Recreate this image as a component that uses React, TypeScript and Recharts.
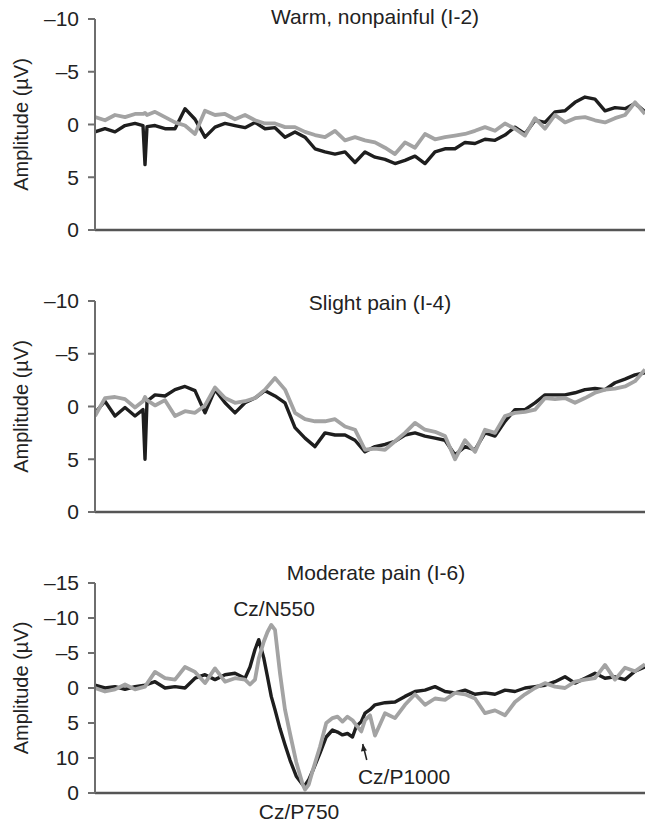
import React from 'react';
import { LineChart, Line, XAxis, YAxis, ReferenceDot } from 'recharts';

const FONT = '"Liberation Sans", Arial, Helvetica, sans-serif';

// ---- Panel 1: Warm, nonpainful (I-2)
const time1 = [-100, -60, -20, 20, 60, 92, 100, 108, 140, 180, 220, 260, 300, 340, 380, 420, 460, 500, 540, 580, 620, 660, 700, 740, 780, 820, 860, 900, 940, 980, 1020, 1060, 1100, 1140, 1180, 1220, 1260, 1300, 1340, 1380, 1420, 1460, 1500, 1540, 1580, 1620, 1660, 1700, 1740, 1780, 1820, 1860, 1900, 1940, 1980, 2020, 2060, 2100];
const black1 = [0.7, 0.4, 0.7, 0.1, -0.1, 0.1, 3.8, 0.2, 0.1, 0.4, 0.4, -1.5, -0.5, 1.2, 0.25, -0.1, 0.1, 0.3, -0.2, 0.4, 0.3, 1.2, 0.7, 1.2, 2.3, 2.6, 2.8, 2.6, 3.6, 2.6, 3.1, 3.3, 3.7, 3.4, 3.0, 3.7, 2.6, 2.3, 2.3, 1.7, 1.8, 1.4, 1.5, 1.0, 0.25, 0.9, -0.4, -0.2, -1.2, -1.3, -2.1, -2.6, -2.4, -1.3, -1.6, -1.5, -2.0, -1.2];
const gray1 = [-0.7, -0.4, -0.9, -0.7, -1.0, -1.0, -1.1, -0.9, -1.2, -0.7, -0.2, 0.1, 0.9, -1.3, -0.9, -1.0, -0.5, -0.9, -0.4, -0.1, -0.1, 0.25, 0.25, 0.7, 1.0, 1.2, 0.6, 1.5, 1.2, 1.5, 1.7, 2.2, 2.8, 1.7, 2.2, 0.9, 1.4, 1.2, 1.05, 0.9, 0.6, 0.25, 0.6, -0.1, 0.4, 1.05, -0.6, 0.4, -0.9, -0.2, -0.6, -0.7, -0.4, -0.2, -0.6, -0.9, -2.1, -1.0];

// ---- Panel 2: Slight pain (I-4)
const time2 = time1;
const black2 = [0.6, -0.5, 0.9, 0.1, 0.9, 0.3, 5.0, -0.5, -1.1, -1.0, -1.6, -1.9, -1.5, 0.6, -1.6, -0.35, 0.6, -0.35, -0.8, -1.5, -1.0, -0.35, 2.0, 3.0, 3.8, 2.5, 2.7, 2.7, 3.2, 4.3, 3.8, 3.6, 3.3, 2.7, 2.5, 2.8, 3.0, 3.2, 4.6, 3.8, 4.1, 2.5, 2.8, 1.4, 0.3, 0.3, -0.35, -1.1, -1.1, -1.1, -1.3, -1.6, -1.7, -1.6, -2.25, -2.6, -3.0, -3.2];
const gray2 = [0.9, -0.8, -0.9, -0.7, 0.1, -0.5, -0.9, -0.6, -0.1, -0.6, 0.9, 0.45, 0.6, -0.1, -1.8, -0.8, -0.35, -0.5, -0.8, -1.6, -2.7, -1.6, 0.6, 1.2, 1.4, 1.4, 1.2, 1.9, 2.2, 4.1, 4.0, 4.1, 3.3, 2.5, 1.55, 2.2, 2.4, 2.8, 5.0, 3.2, 4.3, 2.2, 2.5, 0.9, 0.6, 0.5, 0.3, -0.8, -0.7, -0.8, -0.35, -0.8, -1.3, -1.6, -1.7, -1.9, -2.4, -3.5];

// ---- Panel 3: Moderate pain (I-6)
const time3 = [-100, -60, -20, 20, 60, 100, 140, 180, 220, 260, 300, 340, 380, 420, 460, 500, 520, 540, 555, 575, 590, 605, 620, 640, 660, 680, 705, 730, 740, 755, 770, 800, 825, 850, 870, 890, 910, 930, 945, 965, 980, 1000, 1020, 1060, 1100, 1140, 1180, 1220, 1260, 1300, 1340, 1380, 1420, 1460, 1500, 1540, 1580, 1620, 1660, 1700, 1740, 1780, 1820, 1860, 1900, 1940, 1980, 2020, 2060, 2100];
const black3 = [-0.4, 0, -0.2, 0.2, -0.2, -0.4, -0.9, 0, -0.2, 0, -1.4, -1.9, -1.2, -1.9, -2.1, -1.4, -3.0, -5.5, -6.9, -4.3, -1.6, 1.2, 3.1, 5.8, 8.1, 10.3, 12.6, 13.8, 13.9, 13.1, 11.9, 9.3, 7.0, 6.0, 6.3, 6.7, 6.5, 7.0, 5.5, 4.8, 3.6, 3.1, 2.4, 2.1, 2.0, 1.2, 0.5, 0.3, -0.2, 0.5, 0.7, 0.3, 0.9, 0.7, 0.9, 0.3, 0.5, 0, -0.2, -0.4, -0.9, -1.6, -0.7, -1.4, -2.1, -1.4, -1.6, -1.2, -2.4, -3.0];
const gray3 = [0, 0.5, 0.2, -0.5, 0.2, -0.2, -2.3, -1.4, -1.2, -3.0, -2.3, -0.7, -2.8, -0.9, -1.4, -1.2, -0.5, -1.2, -4.2, -6.6, -8.0, -9.0, -8.3, -2.1, 3.1, 6.5, 10.6, 13.7, 14.5, 13.8, 11.9, 8.4, 5.0, 4.3, 4.1, 4.8, 4.1, 4.6, 5.3, 6.2, 4.6, 3.9, 6.8, 3.6, 4.3, 2.4, 0.9, 2.4, 1.5, 1.7, 0.7, 0.9, 1.5, 3.6, 3.2, 3.9, 2.0, 0.9, 0, -0.7, -0.2, 0, -0.9, -1.2, -1.4, -3.3, -1.2, -2.9, -2.4, -3.4];

const ticks10 = [-10, -5, 0, 5, 10];
const ticks15 = [-15, -10, -5, 0, 5, 10, 15];

const fmt10 = (v: number) => (v === 10 ? '0' : v < 0 ? '\u2013' + Math.abs(v) : String(v));
const fmt15 = (v: number) => (v === 15 ? '0' : v < 0 ? '\u2013' + Math.abs(v) : String(v));

const build = (t: number[], b: number[], g: number[]) => t.map((x, i) => ({ t: x, black: b[i], gray: g[i] }));

const data1 = build(time1, black1, gray1);
const data2 = build(time2, black2, gray2);
const data3 = build(time3, black3, gray3);

const TEXT = '#222';
const AXIS = '#6e6e6e';

function Panel(props: {
  top: number; height: number; mt: number; mb: number; data: any[];
  domain: [number, number]; ticks: number[]; fmt: (v: number) => string;
  title: string; titleX: number; titleY: number; children?: React.ReactNode;
}) {
  const { top, height, mt, mb, data, domain, ticks, fmt, title, titleX, titleY, children } = props;
  return (
    <div style={{ position: 'absolute', left: 0, top, width: 645, height }}>
      <LineChart width={645} height={height} data={data} margin={{ top: mt, right: 0, bottom: mb, left: 0 }}>
        <XAxis dataKey="t" type="number" domain={[-100, 2100]} allowDataOverflow tick={false} tickLine={false}
          height={2} axisLine={{ stroke: '#555', strokeWidth: 2.5 }} />
        <YAxis type="number" domain={domain} reversed allowDataOverflow ticks={ticks} interval={0} tickFormatter={fmt}
          width={95} tickSize={7} tickMargin={9}
          axisLine={{ stroke: AXIS, strokeWidth: 2 }} tickLine={{ stroke: AXIS, strokeWidth: 2 }}
          tick={{ fontSize: 21, fill: TEXT, fontFamily: FONT }}
          label={{ value: 'Amplitude (\u00b5V)', angle: -90, position: 'insideLeft', offset: 21, fill: TEXT, fontSize: 20, fontFamily: FONT, style: { textAnchor: 'middle' } }} />
        <Line type="linear" dataKey="black" stroke="#1e1e1e" strokeWidth={3.4} strokeLinejoin="round" dot={false} isAnimationActive={false} />
        <Line type="linear" dataKey="gray" stroke="#a3a3a3" strokeWidth={3.8} strokeLinejoin="round" dot={false} isAnimationActive={false} />
        {children}
      </LineChart>
      <div style={{ position: 'absolute', left: titleX - 150, width: 300, top: titleY - 12, textAlign: 'center', fontFamily: FONT, fontSize: 21, lineHeight: '24px', color: TEXT, whiteSpace: 'nowrap' }}>{title}</div>
    </div>
  );
}

const arrowShape = (p: any) => {
  const { cx, cy } = p;
  if (cx == null || cy == null) return null;
  return (
    <g>
      <path d={`M${cx},${cy} L${cx + 4},${cy + 16}`} stroke="#222" strokeWidth={1.6} fill="none" />
      <path d={`M${cx},${cy} L${cx + 4.2},${cy + 6.5} L${cx - 1.8},${cy + 7.5} Z`} fill="#222" />
    </g>
  );
};

export default function App() {
  return (
    <div style={{ position: 'absolute', left: 0, top: 0, width: 645, height: 827, background: '#fff', fontFamily: FONT }}>
      <Panel top={0} height={260} mt={19} mb={28} data={data1} domain={[-10, 10]} ticks={ticks10} fmt={fmt10}
        title="Warm, nonpainful (I-2)" titleX={375} titleY={17} />
      <Panel top={270} height={260} mt={31} mb={16} data={data2} domain={[-10, 10]} ticks={ticks10} fmt={fmt10}
        title="Slight pain (I-4)" titleX={380} titleY={303 - 270} />
      <Panel top={540} height={287} mt={43} mb={32} data={data3} domain={[-15, 15]} ticks={ticks15} fmt={fmt15}
        title="Moderate pain (I-6)" titleX={376} titleY={573 - 540}>
        <ReferenceDot x={616} y={-11.4} r={0} ifOverflow="visible" fill="none" stroke="none"
          label={{ value: 'Cz/N550', position: 'center', fill: TEXT, fontSize: 21, fontFamily: FONT }} />
        <ReferenceDot x={1136} y={12.7} r={0} ifOverflow="visible" fill="none" stroke="none"
          label={{ value: 'Cz/P1000', position: 'center', fill: TEXT, fontSize: 21, fontFamily: FONT }} />
        <ReferenceDot x={716} y={17.7} r={0} ifOverflow="visible" fill="none" stroke="none"
          label={{ value: 'Cz/P750', position: 'center', fill: TEXT, fontSize: 21, fontFamily: FONT }} />
        <ReferenceDot x={971} y={8.0} r={1} ifOverflow="visible" shape={arrowShape} />
      </Panel>
    </div>
  );
}
